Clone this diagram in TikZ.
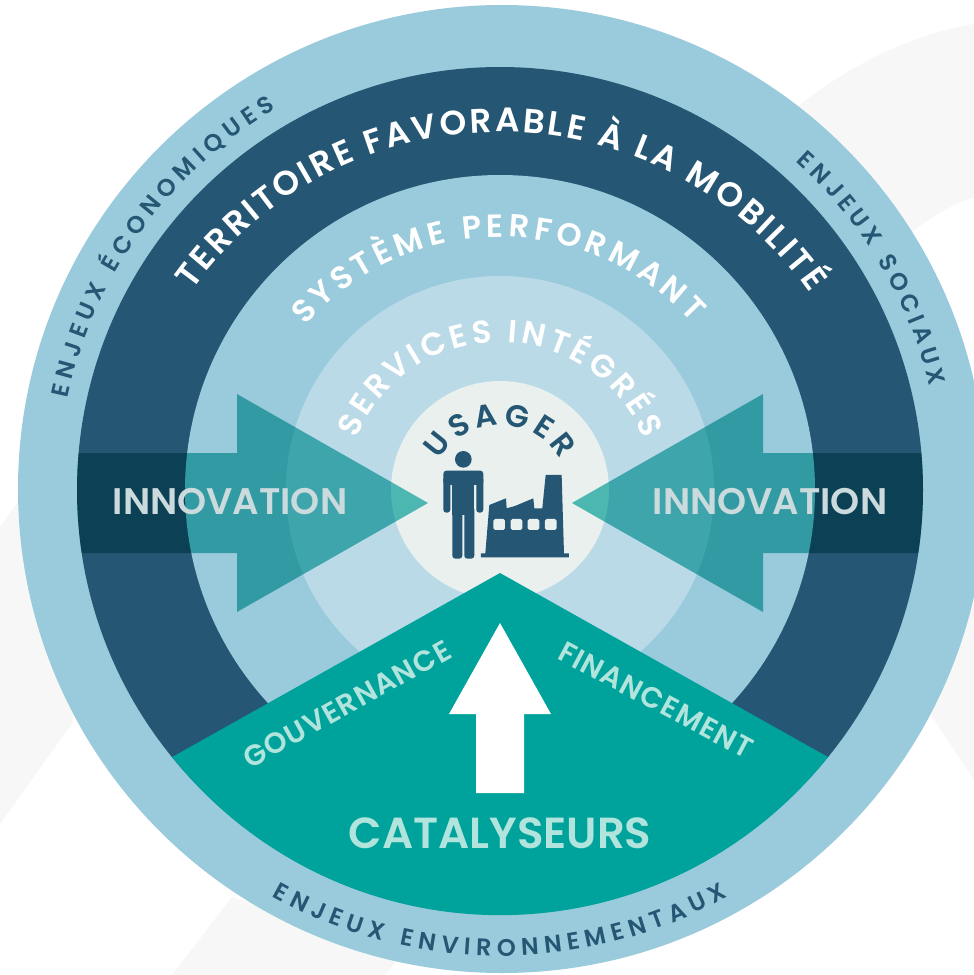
\documentclass[tikz,border=0pt]{standalone}
\usepackage{fontspec}
\setmainfont{Poppins}[UprightFont=* Medium,BoldFont=* SemiBold]
\usetikzlibrary{decorations.text,calc}
\definecolor{ringlight}{HTML}{9ACBDC}
\definecolor{ringdark}{HTML}{255673}
\definecolor{servcol}{HTML}{BBDAE8}
\definecolor{usercol}{HTML}{E9F0EE}
\definecolor{tealcol}{HTML}{00A39B}
\definecolor{mintcol}{HTML}{B0E4DC}
\definecolor{multcol}{HTML}{54C2BD}
\definecolor{innovcol}{HTML}{CBDADC}
\definecolor{bggrey}{HTML}{F7F7F7}
\tikzset{
 disc/.style={circle,minimum size=#1,inner sep=0pt,outer sep=0pt,draw=none},
 flatlabel/.style={text=mintcol,font=\bfseries\fontsize{#1}{#1}\selectfont,inner sep=0pt},
 innovlabel/.style={text=innovcol,font=\bfseries\fontsize{37}{37}\selectfont,inner sep=0pt},
}
\newcommand{\arctxt}[7]{% centre y, radius, start, end, size, colour, text
 \path[decorate,decoration={text along path,text align={fit to path},
   text={|\bfseries\fontsize{#5}{#5}\selectfont\color{#6}|#7}}]
   ($(500,#1)+(#3:#2 and -#2)$) arc[start angle=-#3,end angle=-#4,radius=#2];}
\begin{document}
\begin{tikzpicture}[x=1pt,y=-1pt]
\useasboundingbox (0,0) rectangle (974,975);
\fill[white] (0,0) rectangle (974,975);
\coordinate (c) at (500,490);
% background swooshes
\fill[bggrey] (797,107) .. controls (850,65) and (910,35) .. (974,24) -- (974,197) .. controls (950,205) and (930,218) .. (912,232) -- (860,240) -- cycle;
\fill[bggrey] (0,824) -- (73,722) -- (60,500) -- (18,502) -- (0,527) -- cycle;
\fill[bggrey] (172,975) -- (232,897) -- (405,950) -- (385,975) -- cycle;
\fill[bggrey] (974,780) -- (931,715) -- (960,640) -- (974,600) -- cycle;
% rings
\node[disc=968pt,fill=ringlight] (outer) at (502,489) {};
\node[disc=846pt,fill=ringdark] (dark) at (c) {};
\node[disc=630pt,fill=ringlight] (sys) at (c) {};
\node[disc=428pt,fill=servcol] (serv) at (c) {};
\node[disc=218pt,fill=usercol] (user) at (c) {};
% innovation arrows
\begin{scope}
\clip (c) circle[radius=423];
\begin{scope}[blend mode=multiply]
\fill[multcol] (60,453) -- (237,453) -- (237,394) -- (428,503) -- (237,612) -- (237,553) -- (60,553) -- cycle;
\fill[multcol] (940,453) -- (763,453) -- (763,394) -- (572,503) -- (763,612) -- (763,553) -- (940,553) -- cycle;
\end{scope}
\end{scope}
% catalyst
\fill[tealcol] (500,573) -- (828,757) arc[start angle=38.5,end angle=141.5,radius=419] -- cycle;
\fill[white] (500,623) -- (551,714) -- (524,714) -- (524,793) -- (476,793) -- (476,714) -- (449,714) -- cycle;
% person and factory
\begin{scope}[shift={(380,400)},x=0.3333pt,y=-0.3333pt]
\fill[ringdark] (250,178) circle[radius=25];
\fill[ringdark,rounded corners=3pt] (190,212) rectangle (310,255);
\fill[ringdark,rounded corners=3pt] (190,230) rectangle (211,338);
\fill[ringdark,rounded corners=3pt] (289,230) rectangle (310,338);
\fill[ringdark] (217,225) rectangle (283,345);
\fill[ringdark,rounded corners=3pt] (217,320) rectangle (247,476);
\fill[ringdark,rounded corners=3pt] (253,320) rectangle (283,476);
\fill[ringdark] (328,315) -- (378,295) -- (380,325) -- (405,318) -- (460,295) -- (463,325) -- (487,325) -- (497,225) -- (545,225) -- (552,460) -- (567,460) -- (567,472) -- (303,472) -- (303,460) -- (316,460) -- cycle;
\foreach \wx in {340,392,443,495}{\fill[usercol,rounded corners=1.7pt] (\wx,357) rectangle ++(35,33);}
\end{scope}
% labels
\arctxt{510}{378}{144.5}{35}{34}{white}{TERRITOIRE FAVORABLE À LA MOBILITÉ}
\arctxt{495}{258}{139}{42}{32}{white}{SYSTÈME PERFORMANT}
\arctxt{497}{155}{158}{22}{32}{white}{SERVICES INTÉGRÉS}
\arctxt{495}{70}{150}{30}{31}{ringdark}{USAGER}
\arctxt{490}{442}{168}{120.5}{24}{ringdark}{ENJEUX ÉCONOMIQUES}
\arctxt{490}{442}{48}{13.5}{24}{ringdark}{ENJEUX SOCIAUX}
\path[decorate,decoration={text along path,text align={fit to path},text={|\bfseries\fontsize{24}{24}\selectfont\color{ringdark}|ENJEUX ENVIRONNEMENTAUX}}]
 ($(500,490)+(-119.3:466 and -466)$) arc[start angle=119.3,end angle=60.7,radius=466];
\node[flatlabel=29,rotate=29] (gouv) at (347,704) {\addfontfeature{LetterSpace=4}GOUVERNANCE};
\node[flatlabel=29,rotate=-28] (fin) at (656,700) {\addfontfeature{LetterSpace=4}FINANCEMENT};
\node[flatlabel=43.5] (cat) at (500,833) {CATALYSEURS};
\node[innovlabel] (inL) at (230,502) {INNOVATION};
\node[innovlabel] (inR) at (770,502) {INNOVATION};
\end{tikzpicture}
\end{document}
